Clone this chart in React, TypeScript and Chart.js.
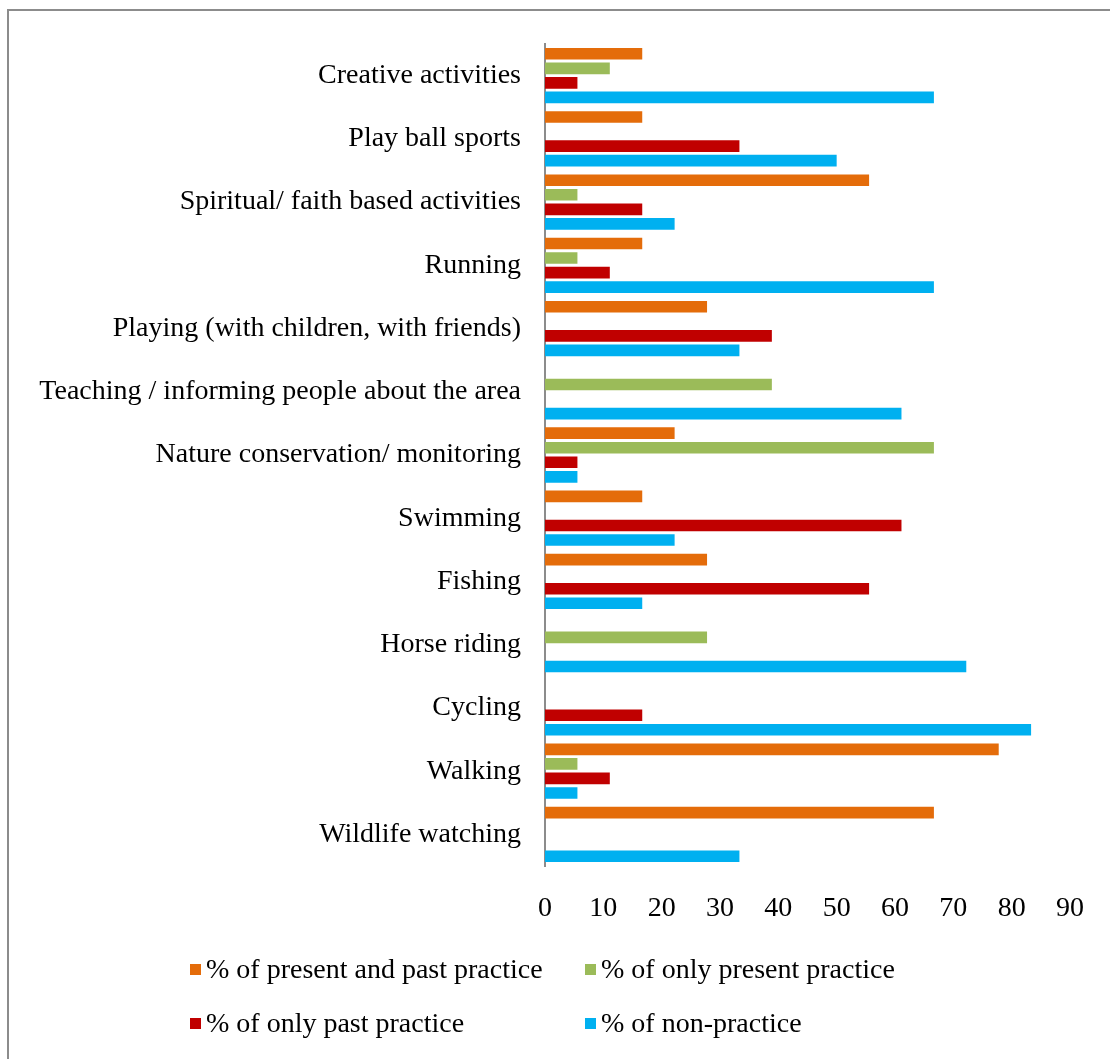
import React, { useEffect, useRef } from "react";
import { Chart, registerables } from "chart.js";

Chart.register(...registerables);

const categories = [
  "Creative activities",
  "Play ball sports",
  "Spiritual/ faith based activities",
  "Running",
  "Playing (with children, with friends)",
  "Teaching / informing people about the area",
  "Nature conservation/ monitoring",
  "Swimming",
  "Fishing",
  "Horse riding",
  "Cycling",
  "Walking",
  "Wildlife watching",
];

const presentAndPast = [16.67, 16.67, 55.56, 16.67, 27.78, 0, 22.22, 16.67, 27.78, 0, 0, 77.78, 66.67];
const onlyPresent = [11.11, 0, 5.56, 5.56, 0, 38.89, 66.67, 0, 0, 27.78, 0, 5.56, 0];
const onlyPast = [5.56, 33.33, 16.67, 11.11, 38.89, 0, 5.56, 61.11, 55.56, 0, 16.67, 11.11, 0];
const nonPractice = [66.67, 50, 22.22, 66.67, 33.33, 61.11, 5.56, 22.22, 16.67, 72.22, 83.33, 5.56, 33.33];

const seriesNames = [
  "% of present and past practice",
  "% of only present practice",
  "% of only past practice",
  "% of non-practice",
];
const seriesColors = ["#E46C0A", "#9BBB59", "#C00000", "#00B0F0"];

const FONT = "'Liberation Serif', 'Times New Roman', serif";
const SIZE = 28;

export default function App() {
  const canvasRef = useRef<HTMLCanvasElement | null>(null);

  useEffect(() => {
    const ctx = canvasRef.current;
    if (!ctx) return;
    const seriesData = [presentAndPast, onlyPresent, onlyPast, nonPractice];
    const chart = new Chart(ctx, {
      type: "bar",
      data: {
        labels: categories,
        datasets: seriesData.map((d, i) => ({
          label: seriesNames[i],
          data: d,
          backgroundColor: seriesColors[i],
          borderWidth: 0,
          categoryPercentage: 0.92,
          barPercentage: 0.8,
        })),
      },
      options: {
        indexAxis: "y",
        animation: false,
        responsive: false,
        maintainAspectRatio: false,
        layout: { padding: { top: 44, right: 38, bottom: 133, left: 0 } },
        plugins: {
          legend: { display: false },
          tooltip: { enabled: false },
        },
        scales: {
          x: {
            min: 0,
            max: 90,
            ticks: {
              stepSize: 10,
              padding: 26,
              color: "#000",
              font: { family: FONT, size: SIZE },
              maxRotation: 0,
            },
            grid: { display: false, drawTicks: false },
            border: { display: false },
            afterFit: (s: any) => {
              s.height = 60;
            },
          },
          y: {
            ticks: {
              padding: 24,
              color: "#000",
              font: { family: FONT, size: SIZE },
              autoSkip: false,
            },
            grid: { display: false, drawTicks: false },
            border: { display: true, color: "#8c8c8c", width: 2 },
            afterFit: (s: any) => {
              s.width = 545;
            },
          },
        },
      },
    });
    return () => chart.destroy();
  }, []);

  const legendItem = (i: number, left: number, top: number) => (
    <div
      key={i}
      style={{
        position: "absolute",
        left,
        top,
        display: "flex",
        alignItems: "center",
        fontFamily: FONT,
        fontSize: SIZE,
        color: "#000",
        whiteSpace: "nowrap",
        lineHeight: "30px",
      }}
    >
      <span
        style={{
          display: "inline-block",
          width: 11,
          height: 11,
          background: seriesColors[i],
          marginRight: 5,
        }}
      />
      <span>{seriesNames[i]}</span>
    </div>
  );

  return (
    <div
      style={{
        position: "absolute",
        left: 0,
        top: 0,
        width: 1110,
        height: 1059,
        background: "#fff",
        overflow: "hidden",
      }}
    >
      <div
        style={{
          position: "absolute",
          left: 7,
          top: 9,
          width: 1110,
          height: 1059,
          borderLeft: "2px solid #8c8c8c",
          borderTop: "2px solid #8c8c8c",
        }}
      />
      <canvas
        ref={canvasRef}
        width={1110}
        height={1059}
        style={{ position: "absolute", left: 0, top: 0, width: 1110, height: 1059 }}
      />
      {legendItem(0, 190, 954)}
      {legendItem(1, 585, 954)}
      {legendItem(2, 190, 1008)}
      {legendItem(3, 585, 1008)}
    </div>
  );
}
